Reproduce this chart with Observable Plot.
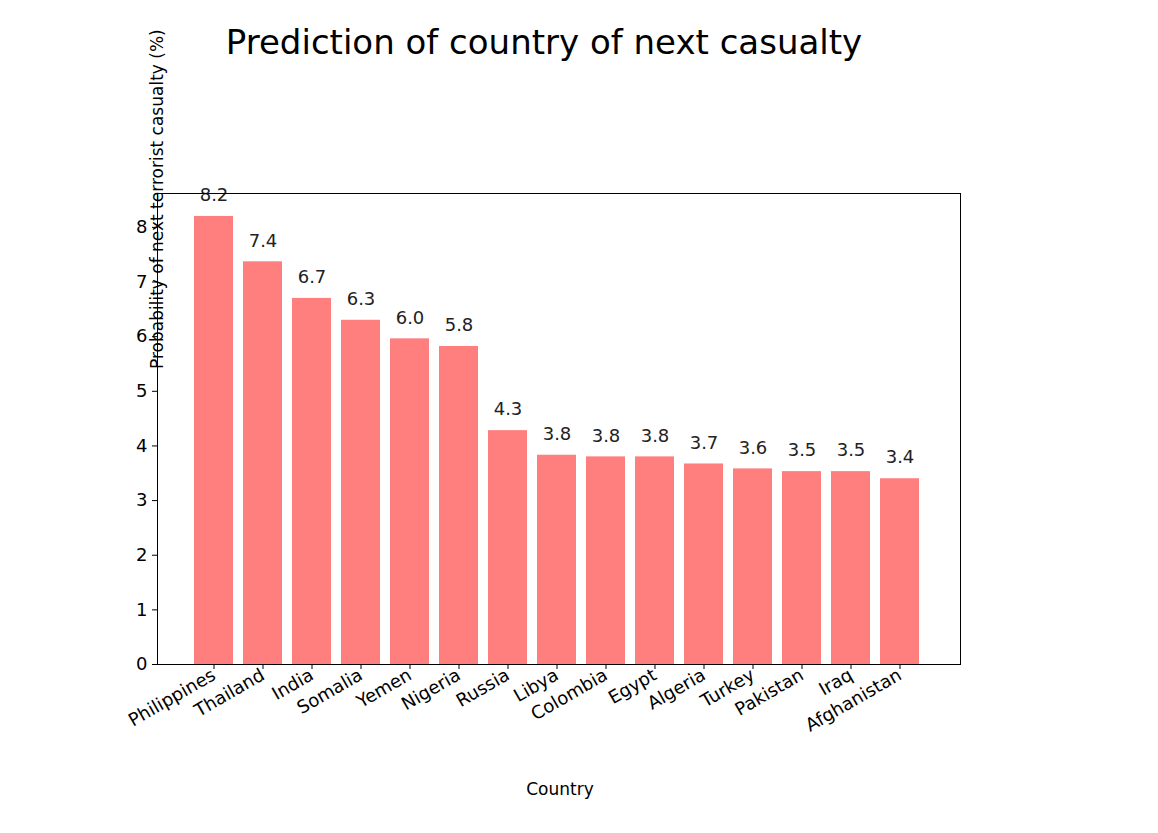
<!DOCTYPE html>
<html>
<head>
<meta charset="utf-8">
<script src="https://cdn.jsdelivr.net/npm/d3@7"></script>
<script src="https://cdn.jsdelivr.net/npm/@observablehq/plot@0.6"></script>
<style>
  body { margin: 0; background: white; font-family: "DejaVu Sans", sans-serif; }
  #wrap { position: relative; width: 1158px; height: 833px; }
  #title { position: absolute; left: 0; width: 1088px; top: 22px; text-align: center; font-size: 34px; color: #000; }
</style>
</head>
<body>
<div id="wrap">
  <div id="title">Prediction of country of next casualty</div>
  <div id="chart"></div>
</div>
<script>
const countries = ['Philippines', 'Thailand', 'India', 'Somalia', 'Yemen', 'Nigeria', 'Russia', 'Libya',
  'Colombia', 'Egypt', 'Algeria', 'Turkey', 'Pakistan', 'Iraq', 'Afghanistan']
const probs = [8.2, 7.37, 6.7, 6.3, 5.96, 5.82, 4.28, 3.83, 3.8, 3.8, 3.67, 3.58, 3.53, 3.53, 3.4]

const data = countries.map((c, i) => ({country: c, p: probs[i]}))

let chart = Plot.plot({
  width: 1158,
  height: 833,
  marginLeft: 157,
  marginRight: 198,
  marginTop: 193,
  marginBottom: 169,
  style: {fontFamily: 'DejaVu Sans, sans-serif', fontSize: '17px', color: '#000', background: 'white'},
  x: {domain: countries, padding: 0.2, insetLeft: 25, insetRight: 28, label: null},
  y: {domain: [0, 8.62], ticks: d3.range(0, 9), label: null},
  marks: [
    Plot.barY(data, {x: 'country', y: 'p', fill: '#ff7f7f'}),
    Plot.text(data, {x: 'country', y: 'p', text: d => d.p.toFixed(1), dy: -21, fontSize: 18, fill: '#222'}),
    Plot.frame({stroke: '#000'}),
    Plot.axisY({ticks: d3.range(0, 9), tickSize: 5, fontSize: 18, tickPadding: 5, label: null}),
    Plot.axisX({tickSize: 5, tickRotate: -30, textAnchor: 'end', fontSize: 18, tickPadding: 4, label: null}),
    Plot.text(['Probability of next terrorist casualty (%)'], {frameAnchor: 'left', dy: -60, rotate: -90, fontSize: 17}),
    Plot.text(['Country'], {frameAnchor: 'bottom', dy: 130, dx: 1, fontSize: 17})
  ]
})
d3.select('#chart').append(() => chart)
</script>
</body>
</html>
